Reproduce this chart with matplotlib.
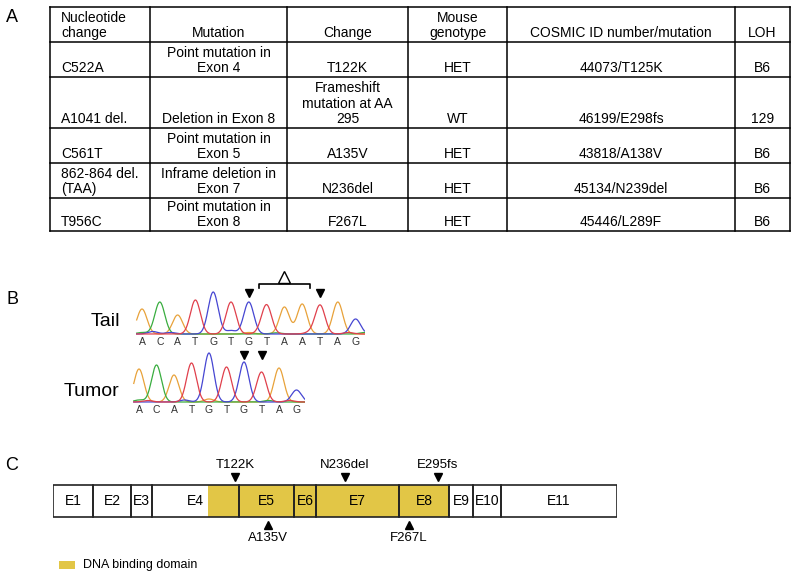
import numpy as np
import matplotlib.pyplot as plt
from matplotlib.patches import Rectangle

plt.rcParams['font.family'] = ['Liberation Sans', 'DejaVu Sans']

W, H = 800, 579

# ---- panel A: mutation table
header = ["Nucleotide\nchange", "Mutation", "Change", "Mouse\ngenotype",
          "COSMIC ID number/mutation", "LOH"]
nucleotide = ["C522A", "A1041 del.", "C561T", "862-864 del.\n(TAA)", "T956C"]
mutation = ["Point mutation in\nExon 4", "Deletion in Exon 8", "Point mutation in\nExon 5",
            "Inframe deletion in\nExon 7", "Point mutation in\nExon 8"]
change = ["T122K", "Frameshift\nmutation at AA\n295", "A135V", "N236del", "F267L"]
genotype = ["HET", "WT", "HET", "HET", "HET"]
cosmic = ["44073/T125K", "46199/E298fs", "43818/A138V", "45134/N239del", "45446/L289F"]
loh = ["B6", "129", "B6", "B6", "B6"]

# ---- panel B: sequencing traces
tail_bases = list("ACATGTGTAATAG")
tail_heights = [25, 32, 19, 34, 42, 32, 32, 29, 27, 30, 29, 32, 15]
tail_minor = [("C", 0.0, 1.5), ("G", 0.6, 2.5), ("G", 1.6, 1.5), ("G", 5.0, 3.5),
              ("A", 6.0, 1.5), ("T", 6.6, 1.2), ("C", 7.5, 1.2), ("T", 9.4, 1.5),
              ("T", 11.6, 1.5), ("C", 12.5, 1.5)]
tail_marks = [6, 10]
tail_deleted = (7, 9)
tumor_bases = list("ACATGTGTAG")
tumor_heights = [33, 37, 27, 39, 49, 35, 40, 30, 34, 12]
tumor_minor = [("C", 0.0, 2.0), ("T", 0.5, 1.5), ("G", 2.6, 2.0), ("A", 4.0, 3.0),
               ("C", 7.4, 1.5), ("T", 8.6, 1.5)]
tumor_marks = [6, 7]

# ---- panel C: exon map
exon_names = ["E1", "E2", "E3", "E4", "E5", "E6", "E7", "E8", "E9", "E10", "E11"]
exon_lengths = [40, 38, 21, 87, 55, 22, 83, 50, 24, 28, 116]
dbd_span = (155, 396)
muts_above = [("T122K", 182), ("N236del", 292), ("E295fs", 385)]
muts_below = [("A135V", 215), ("F267L", 356)]

base_colors = {"A": "#e8a23a", "C": "#39ad3f", "G": "#4646d2", "T": "#e0404c"}
yellow = "#e2c646"


def px_axes(fig, left, top, right, bottom):
    ax = fig.add_axes([left / W, 1 - bottom / H, (right - left) / W, (bottom - top) / H])
    ax.axis("off")
    return ax


fig = plt.figure(figsize=(W / 100, H / 100), dpi=100)
base = px_axes(fig, 0, 0, W, H)
base.set_xlim(0, W)
base.set_ylim(H, 0)

# panel letters
for letter, y in [("A", 17), ("B", 300), ("C", 466)]:
    base.text(12, y, letter, fontsize=13, ha="center", va="center")

# table grid
col_edges = [50, 150, 287, 408, 507, 735, 790]
row_edges = [7, 42, 77, 128, 163, 198, 231]
for x in col_edges:
    base.plot([x, x], [row_edges[0], row_edges[-1]], color="black", lw=1.1)
for y in row_edges:
    base.plot([col_edges[0], col_edges[-1]], [y, y], color="black", lw=1.1)

columns = [nucleotide, mutation, change, genotype, cosmic, loh]
for r in range(len(nucleotide) + 1):
    y = row_edges[r + 1] - 5
    for c in range(len(columns)):
        txt = header[c] if r == 0 else columns[c][r - 1]
        if c == 0:
            base.text(col_edges[0] + 11, y, txt, ha="left", va="baseline",
                      fontsize=10, linespacing=1.12)
        else:
            base.text((col_edges[c] + col_edges[c + 1]) / 2, y, txt, ha="center",
                      va="baseline", fontsize=10, linespacing=1.12, multialignment="center")


def draw_trace(ax, bases, heights, minor, marks, mark_y, end):
    x = np.linspace(-0.3, end, 1500)
    sig = 0.28
    for ch, col in base_colors.items():
        y = np.zeros_like(x)
        for i, (b, h) in enumerate(zip(bases, heights)):
            if b == ch:
                y += h * np.exp(-(x - i) ** 2 / (2 * sig ** 2))
        for b, p, h in minor:
            if b == ch:
                y += h * np.exp(-(x - p) ** 2 / (2 * sig ** 2))
        ax.plot(x, y, color=col, lw=0.9)
    for i, b in enumerate(bases):
        ax.text(i, -8, b, ha="center", va="center", fontsize=7.5, color="#333333")
    for i in marks:
        ax.plot(i, mark_y, marker="v", color="black", markersize=6)


# tail trace
tail_ax = px_axes(fig, 142 - 8.9, 270, 142 + 17.8 * 12.5, 348)
tail_ax.set_xlim(-0.5, 12.5)
tail_ax.set_ylim(-14, 64)
draw_trace(tail_ax, tail_bases, tail_heights, tail_minor, tail_marks, 41, 12.5)
d0, d1 = tail_deleted
tail_ax.plot([d0 - 0.45, d0 - 0.45, d1 + 0.45, d1 + 0.45], [46, 50, 50, 46],
             color="black", lw=1.2)
tail_ax.plot((d0 + d1) / 2, 57, marker="^", markerfacecolor="white",
             markeredgecolor="black", markersize=8, mew=1.0)
base.text(105, 322, "Tail", fontsize=14, ha="center", va="center")

# tumor trace
tumor_ax = px_axes(fig, 139 - 8.75, 340, 139 + 17.5 * 9.5, 416)
tumor_ax.set_xlim(-0.5, 9.5)
tumor_ax.set_ylim(-14, 62)
draw_trace(tumor_ax, tumor_bases, tumor_heights, tumor_minor, tumor_marks, 47, 9.5)
base.text(92, 392, "Tumor", fontsize=14, ha="center", va="center")

# exon map
gene_ax = px_axes(fig, 53, 455, 617, 545)
total = sum(exon_lengths)
gene_ax.set_xlim(0, total)
gene_ax.set_ylim(-28, 62)
gene_ax.add_patch(Rectangle((dbd_span[0], 0), dbd_span[1] - dbd_span[0], 32,
                            facecolor=yellow, edgecolor="none"))
start = 0
for name, length in zip(exon_names, exon_lengths):
    gene_ax.add_patch(Rectangle((start, 0), length, 32, facecolor="none",
                                edgecolor="#222222", lw=1.2))
    gene_ax.text(start + length / 2, 16, name, ha="center", va="center", fontsize=10)
    start += length
for label, pos in muts_above:
    gene_ax.plot(pos, 40, marker="v", color="black", markersize=6)
    gene_ax.text(pos, 52, label, ha="center", va="center", fontsize=9.5)
for label, pos in muts_below:
    gene_ax.plot(pos, -8, marker="^", color="black", markersize=6)
    gene_ax.text(pos, -21, label, ha="center", va="center", fontsize=9.5)

# legend
base.add_patch(Rectangle((59, 561), 16, 8, facecolor=yellow, edgecolor="none"))
base.text(83, 565, "DNA binding domain", fontsize=9, ha="left", va="center")

fig.savefig("out.png", dpi=100)
